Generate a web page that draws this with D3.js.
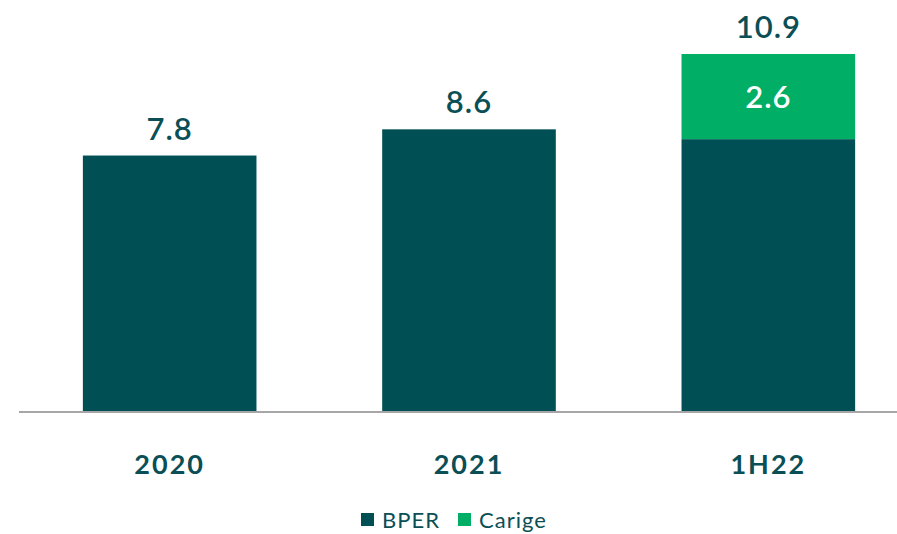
<!DOCTYPE html>
<html><head><meta charset="utf-8">
<script src="https://cdn.jsdelivr.net/npm/d3@7"></script>
<style>body{margin:0;background:#fff}svg{display:block}</style>
</head><body>
<svg id="c" width="897" height="534"></svg>
<script>
const categories = ["2020", "2021", "1H22"];
const bper = [7.8, 8.6, 8.3];
const carige = [0, 0, 2.6];
const totals = [7.8, 8.6, 10.9];
const seriesNames = ["BPER", "Carige"];
const colors = ["#004f55", "#00ae66"];
const textColor = "#0b4f56";

const svg = d3.select("#c");
const x = d3.scaleBand().domain(categories).range([20, 918]).paddingInner(126/300).paddingOuter(126/600);
const y = d3.scaleLinear().domain([0, 10.9]).range([411, 54]);

const rows = categories.map((c, i) => ({cat: c, BPER: bper[i], Carige: carige[i]}));
const stack = d3.stack().keys(seriesNames)(rows);

svg.selectAll("g.s").data(stack).join("g").attr("fill", (d, i) => colors[i])
  .selectAll("rect").data(d => d.filter(p => p[1] - p[0] > 0)).join("rect")
  .attr("x", d => x(d.data.cat)).attr("width", x.bandwidth())
  .attr("y", d => y(d[1])).attr("height", d => y(d[0]) - y(d[1]));

// axis line
svg.append("line").attr("x1", 19).attr("x2", 897).attr("y1", 412).attr("y2", 412)
  .attr("stroke", "#a6a6a6").attr("stroke-width", 2);

// category labels
const xa = svg.append("g").attr("transform", "translate(0,474)")
  .call(d3.axisBottom(x).tickSize(0).tickPadding(0));
xa.select(".domain").remove();
xa.selectAll("text").attr("dy", 0).attr("fill", textColor)
  .style("font-family", "Lato").style("font-weight", "bold").style("font-size", "27px").style("letter-spacing", "2px");

// total labels
svg.selectAll("text.tot").data(categories).join("text").attr("class", "tot")
  .attr("x", d => x(d) + x.bandwidth() / 2).attr("y", (d, i) => y(totals[i]) - 16)
  .attr("text-anchor", "middle").attr("fill", textColor)
  .style("font-family", "Lato").style("font-weight", "600").style("font-size", "31px").style("letter-spacing", "1px")
  .text((d, i) => totals[i].toFixed(1));

// carige label
svg.selectAll("text.car").data(categories.filter((d, i) => carige[i] > 0)).join("text").attr("class", "car")
  .attr("x", d => x(d) + x.bandwidth() / 2)
  .attr("y", d => { const i = categories.indexOf(d); return (y(bper[i]) + y(bper[i] + carige[i])) / 2 + 11; })
  .attr("text-anchor", "middle").attr("fill", "#fff")
  .style("font-family", "Lato").style("font-weight", "600").style("font-size", "31px").style("letter-spacing", "1px")
  .text(d => carige[categories.indexOf(d)].toFixed(1));

// legend
const lg = svg.append("g");
const lx = [361, 458];
seriesNames.forEach((n, i) => {
  lg.append("rect").attr("x", lx[i]).attr("y", 513).attr("width", 13).attr("height", 13).attr("fill", colors[i]);
  lg.append("text").attr("x", lx[i] + 21).attr("y", 528).attr("fill", textColor)
    .style("font-family", "Lato").style("font-size", "22px").style("letter-spacing", "1px").text(n);
});
</script>
</body></html>
